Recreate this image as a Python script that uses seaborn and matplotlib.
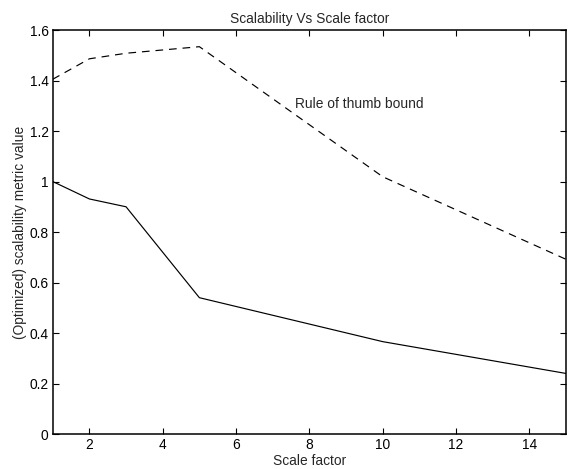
import matplotlib
matplotlib.use("Agg")
import matplotlib.pyplot as plt
import seaborn as sns
import pandas as pd

# Scale factors and the two metric series
scale_factor = [1, 2, 3, 5, 10, 15]
optimized_metric = [1.00, 0.931, 0.900, 0.540, 0.366, 0.240]
thumb_bound = [1.405, 1.486, 1.508, 1.534, 1.019, 0.692]

x_ticks = [2, 4, 6, 8, 10, 12, 14]
y_ticks = [0, 0.2, 0.4, 0.6, 0.8, 1.0, 1.2, 1.4, 1.6]
y_tick_labels = ["0", "0.2", "0.4", "0.6", "0.8", "1", "1.2", "1.4", "1.6"]

sns.set_theme(style="white")
plt.rcParams["font.family"] = ["Liberation Sans", "DejaVu Sans"]

df = pd.DataFrame({
    "Scale factor": scale_factor * 2,
    "value": optimized_metric + thumb_bound,
    "series": ["optimized"] * len(scale_factor) + ["bound"] * len(scale_factor),
})

fs = 9.9

fig = plt.figure(figsize=(5.7, 4.69), dpi=100)
ax = fig.add_axes([0.0925, 0.0745, 0.9005, 0.8615])

sns.lineplot(data=df, x="Scale factor", y="value", style="series",
             style_order=["optimized", "bound"],
             dashes={"optimized": "", "bound": (6.5, 5)},
             color="black", linewidth=0.85, legend=False, ax=ax, sort=False)

ax.set_xlim(1, 15)
ax.set_ylim(0, 1.6)
ax.set_xticks(x_ticks)
ax.set_xticklabels([str(t) for t in x_ticks])
ax.set_yticks(y_ticks)
ax.set_yticklabels(y_tick_labels)

ax.tick_params(direction="in", length=4.5, width=0.8, colors="black",
               labelsize=fs, top=True, right=True, bottom=True, left=True,
               pad=3)
for sp in ax.spines.values():
    sp.set_color("black")
    sp.set_linewidth(1.1)

ax.set_xlabel("Scale factor", fontsize=fs, labelpad=1)
ax.set_ylabel("(Optimized) scalability metric value", fontsize=fs, labelpad=2)
ax.set_title("Scalability Vs Scale factor", fontsize=fs, pad=5)

ax.text(7.6, 1.307, "Rule of thumb bound", fontsize=fs, ha="left", va="center")

fig.savefig("out.png", dpi=100, facecolor="white")
